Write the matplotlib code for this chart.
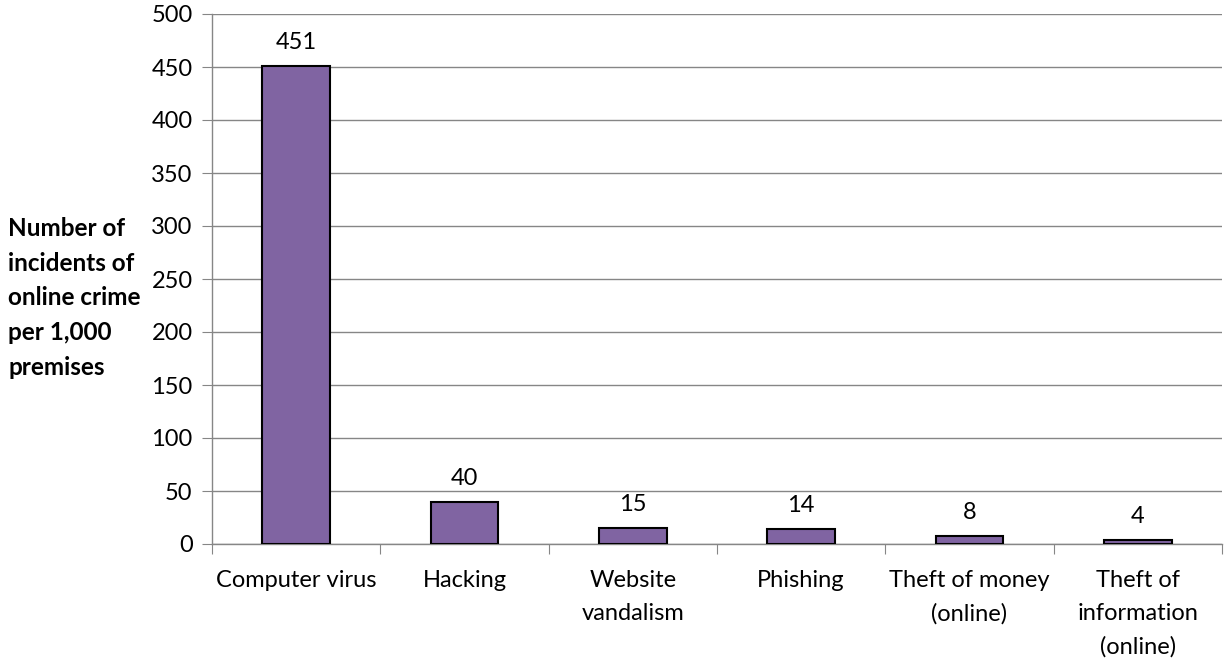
import matplotlib.pyplot as plt
import numpy as np

plt.rcParams['font.family'] = ['Lato', 'DejaVu Sans']

categories = ["Computer virus", "Hacking", "Website\nvandalism", "Phishing",
              "Theft of money\n(online)", "Theft of\ninformation\n(online)"]
incidents = [451, 40, 15, 14, 8, 4]
y_ticks = [0, 50, 100, 150, 200, 250, 300, 350, 400, 450, 500]

fig = plt.figure(figsize=(12.24, 6.59), dpi=100)
ax = fig.add_axes([212 / 1224, 115 / 659, 1010 / 1224, 530 / 659])

grid_col = "#868686"
x = np.arange(len(categories))
ax.bar(x, incidents, width=0.4, color="#8064A2", edgecolor="black", linewidth=1.5, zorder=3)

# 数值标签
for xi, v in zip(x, incidents):
    ax.text(xi, v + 12, str(v), ha="center", va="bottom", fontsize=17)

ax.set_xlim(-0.5, len(categories) - 0.5)
ax.set_ylim(0, 500)
ax.set_yticks(y_ticks)
ax.yaxis.grid(True, color=grid_col, linewidth=1)
ax.set_axisbelow(True)

# 类别刻度放在类别之间
ax.set_xticks(np.arange(len(categories) + 1) - 0.5)
ax.set_xticklabels([])
ax.set_xticks(x, minor=True)
ax.set_xticklabels(categories, minor=True, fontsize=17, linespacing=1.68, va="top")
ax.tick_params(axis="x", which="minor", length=0, pad=19)
ax.tick_params(axis="x", which="major", length=7, color=grid_col, direction="out")
ax.tick_params(axis="y", length=7, color=grid_col, labelsize=17, pad=7)

for s in ["top", "right"]:
    ax.spines[s].set_visible(False)
for s in ["left", "bottom"]:
    ax.spines[s].set_color(grid_col)
    ax.spines[s].set_linewidth(1)

fig.text(8 / 1224, 1 - 298 / 659, "Number of\nincidents of\nonline crime\nper 1,000\npremises",
         ha="left", va="center", fontsize=17.5, fontweight="bold", linespacing=1.62)

fig.savefig("out.png", dpi=100)
